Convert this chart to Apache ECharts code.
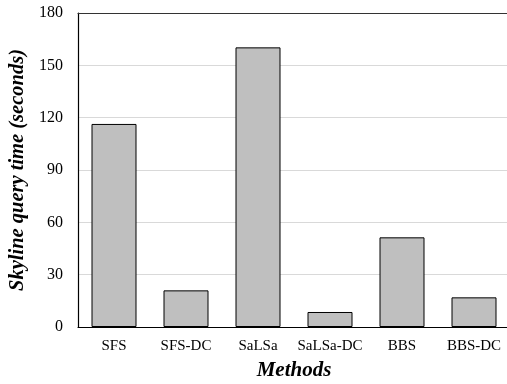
<!DOCTYPE html>
<html><head><meta charset="utf-8">
<script src="https://cdn.jsdelivr.net/npm/echarts@6/dist/echarts.min.js"></script>
<style>html,body{margin:0;padding:0;background:#fff}#c{width:507px;height:384px}</style>
</head><body><div id="c"></div>
<script>
const categories = ['SFS','SFS-DC','SaLSa','SaLSa-DC','BBS','BBS-DC'];
const queryTime = [116.4, 21, 160.3, 8.6, 51.4, 17];
const yTicks = {min:0, max:180, interval:30};
const font = 'Liberation Serif, Times New Roman, serif';
const chart = echarts.init(document.getElementById('c'));
chart.setOption({
  animation:false,
  grid:{left:78, top:13, width:432, height:314, containLabel:false, outerBoundsMode:'none'},
  xAxis:[{
    type:'category', data:categories,
    name:'Methods', nameLocation:'middle', nameGap:33,
    nameTextStyle:{fontFamily:font, fontSize:21, fontWeight:'bold', fontStyle:'italic', color:'#000'},
    axisLine:{lineStyle:{color:'#000', width:1.2}},
    axisTick:{show:false},
    axisLabel:{fontFamily:font, fontSize:15, color:'#000', margin:12, interval:0}
  },{
    type:'category', data:categories, position:'top',
    axisLine:{show:true, lineStyle:{color:'#333', width:1.2}},
    axisTick:{show:false}, axisLabel:{show:false}
  }],
  yAxis:{
    type:'value', min:yTicks.min, max:yTicks.max, interval:yTicks.interval,
    name:'Skyline query time (seconds)', nameLocation:'middle', nameGap:47,
    nameTextStyle:{fontFamily:font, fontSize:20.5, fontWeight:'bold', fontStyle:'italic', color:'#000'},
    axisLine:{show:true, lineStyle:{color:'#000', width:1.2}},
    axisTick:{show:false},
    axisLabel:{fontFamily:font, fontSize:16, color:'#000', margin:15},
    splitLine:{lineStyle:{color:'#d9d9d9', width:1}}
  },
  series:[{
    type:'bar', data:queryTime, barWidth:45,
    itemStyle:{color:'#bfbfbf', borderColor:'#000', borderWidth:1}
  }]
});
</script></body></html>
